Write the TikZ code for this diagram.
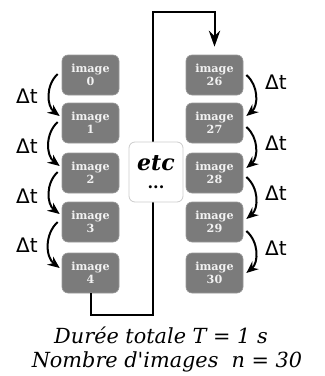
\documentclass[tikz,border=0pt]{standalone}
\usepackage{fontspec}
\setmainfont{DejaVu Serif}
\newfontfamily\dsans{DejaVu Sans}
\newfontfamily\serifplain{DejaVu Serif}
\usetikzlibrary{arrows.meta,calc}
\definecolor{boxgray}{HTML}{7B7B7B}
\definecolor{boxedge}{HTML}{9A9A9A}
\definecolor{boxtext}{HTML}{F2F2F2}
\definecolor{etcedge}{HTML}{CCCCCC}
\tikzset{
  imgbox/.style={rectangle, rounded corners=4.5pt, fill=boxgray, draw=boxedge, line width=0.5pt,
    minimum width=42.75pt, minimum height=30pt, inner sep=0pt, align=center, text=boxtext,
    font=\bfseries\fontsize{8.4}{10}\selectfont},
  etcbox/.style={rectangle, rounded corners=4.5pt, fill=white, draw=etcedge, line width=0.6pt,
    minimum width=40.5pt, minimum height=45pt, inner sep=0pt, align=center},
  mainline/.style={line width=1.5pt, line join=miter},
  bigarrow/.style={mainline, -{Stealth[length=12pt,width=8.5pt,inset=4pt]}, shorten >=6pt},
  carrow/.style={line width=1.5pt, -{Stealth[length=9pt,width=7.5pt,inset=3pt]}},
  dtlabel/.style={font=\dsans\fontsize{15}{18}\selectfont, inner sep=0pt},
  bottomtext/.style={font=\serifplain\itshape\fontsize{15.6}{18}\selectfont, inner sep=0pt}
}
\begin{document}
\begin{tikzpicture}[x=0.75pt,y=-0.75pt]
\useasboundingbox (0,0) rectangle (325,376);
% left column
\node[imgbox] (b0) at (90.5,75) {image\\0};
\node[imgbox] (b1) at (90.5,123) {image\\1};
\node[imgbox] (b2) at (90.5,173) {image\\2};
\node[imgbox] (b3) at (90.5,222) {image\\3};
\node[imgbox] (b4) at (90.5,273) {image\\4};
% right column
\node[imgbox] (b26) at (214.5,75) {image\\26};
\node[imgbox] (b27) at (214.5,123) {image\\27};
\node[imgbox] (b28) at (214.5,173) {image\\28};
\node[imgbox] (b29) at (214.5,222) {image\\29};
\node[imgbox] (b30) at (214.5,273) {image\\30};
% connecting line
\coordinate (c1) at (153,315);
\coordinate (c2) at (153,12);
\draw[bigarrow] (b4.south) |- (c1) -- (c2) -| (b26.north);
% etc box
\node[etcbox] (etc) at (156,172) {{\bfseries\itshape\fontsize{16.5}{18}\selectfont etc}\\[1pt]{\bfseries\fontsize{12}{12}\selectfont ...}};
% left curved arrows
\draw[carrow] ([shift={(-4,-1)}]b0.west) to[bend right=50] ([shift={(-2,-7)}]b1.west);
\draw[carrow] ([shift={(-4,-1)}]b1.west) to[bend right=50] ([shift={(-2,-7)}]b2.west);
\draw[carrow] ([shift={(-4,-1)}]b2.west) to[bend right=50] ([shift={(-2,-8)}]b3.west);
\draw[carrow] ([shift={(-4,0)}]b3.west) to[bend right=50] ([shift={(-2,-5)}]b4.west);
% right curved arrows
\draw[carrow] ([shift={(3,0)}]b26.east) to[bend left=50] ([shift={(3,-7)}]b27.east);
\draw[carrow] ([shift={(3,4)}]b27.east) to[bend left=50] ([shift={(3,-5)}]b28.east);
\draw[carrow] ([shift={(3,4)}]b28.east) to[bend left=50] ([shift={(3,-3)}]b29.east);
\draw[carrow] ([shift={(3,9)}]b29.east) to[bend left=50] ([shift={(3,0)}]b30.east);
% delta t labels
\node[dtlabel] (dl1) at (27,96) {Δt};
\node[dtlabel] (dl2) at (27,146) {Δt};
\node[dtlabel] (dl3) at (27,196) {Δt};
\node[dtlabel] (dl4) at (27,245) {Δt};
\node[dtlabel] (dr1) at (276,82) {Δt};
\node[dtlabel] (dr2) at (276,143) {Δt};
\node[dtlabel] (dr3) at (276,193) {Δt};
\node[dtlabel] (dr4) at (276,248) {Δt};
% bottom text
\node[bottomtext] (t1) at (161,335) {Durée totale T = 1 s};
\node[bottomtext] (t2) at (167,362) {Nombre d'images\ \ n = 30};
\end{tikzpicture}
\end{document}
